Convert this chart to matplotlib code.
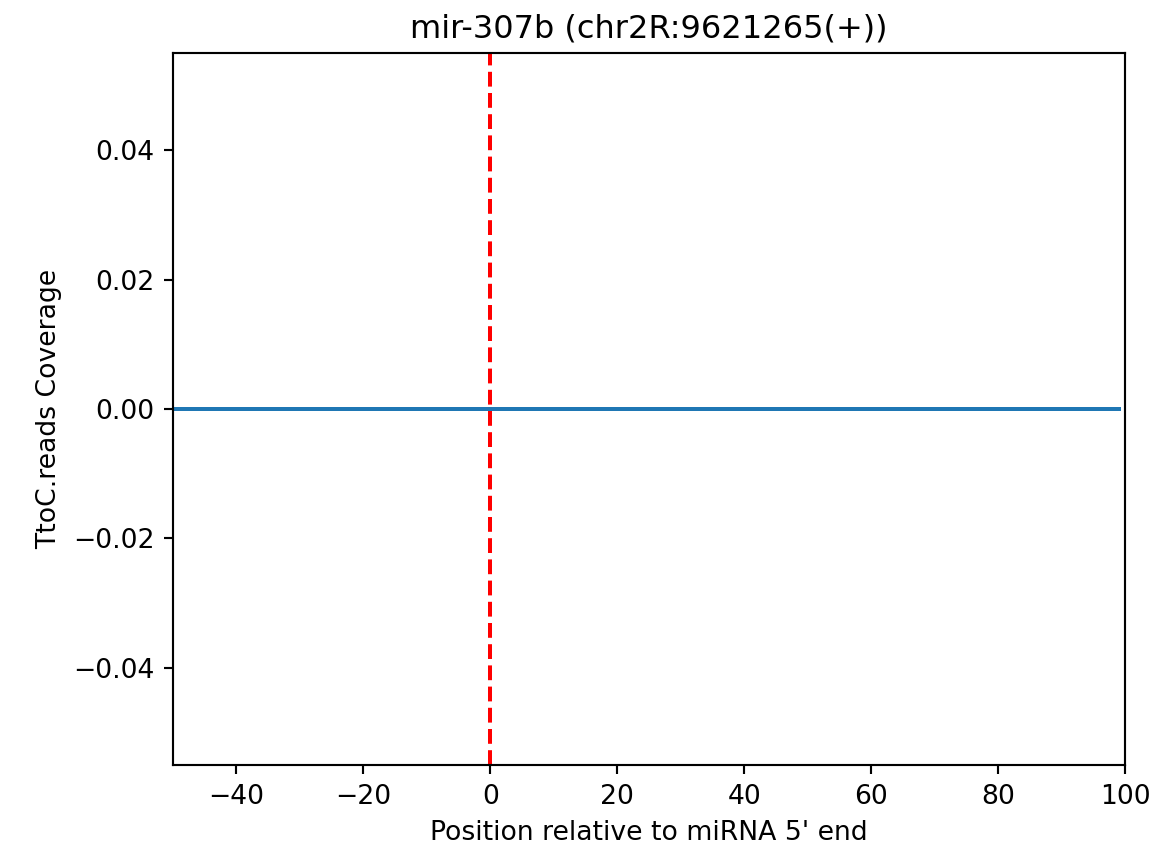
import numpy as np
import matplotlib
matplotlib.use("Agg")
import matplotlib.pyplot as plt

title = "mir-307b (chr2R:9621265(+))"
positions = np.arange(-50, 100)
coverage = [0.0] * len(positions)
mirna_start = 0

fig = plt.figure(figsize=(1150 / 192, 845 / 192), dpi=192)
ax = fig.add_axes([173 / 1150, 80 / 845, 952 / 1150, 712 / 845])
ax.plot(positions, coverage, color="#1f77b4", linewidth=1.5)
ax.axvline(mirna_start, color="red", linestyle="--", linewidth=1.5)
ax.set_xlim(-50, 100)
ax.set_ylim(-0.055, 0.055)
ax.set_title(title)
ax.set_xlabel("Position relative to miRNA 5' end")
ax.set_ylabel("TtoC.reads Coverage")
fig.savefig("out.png", dpi=192)
